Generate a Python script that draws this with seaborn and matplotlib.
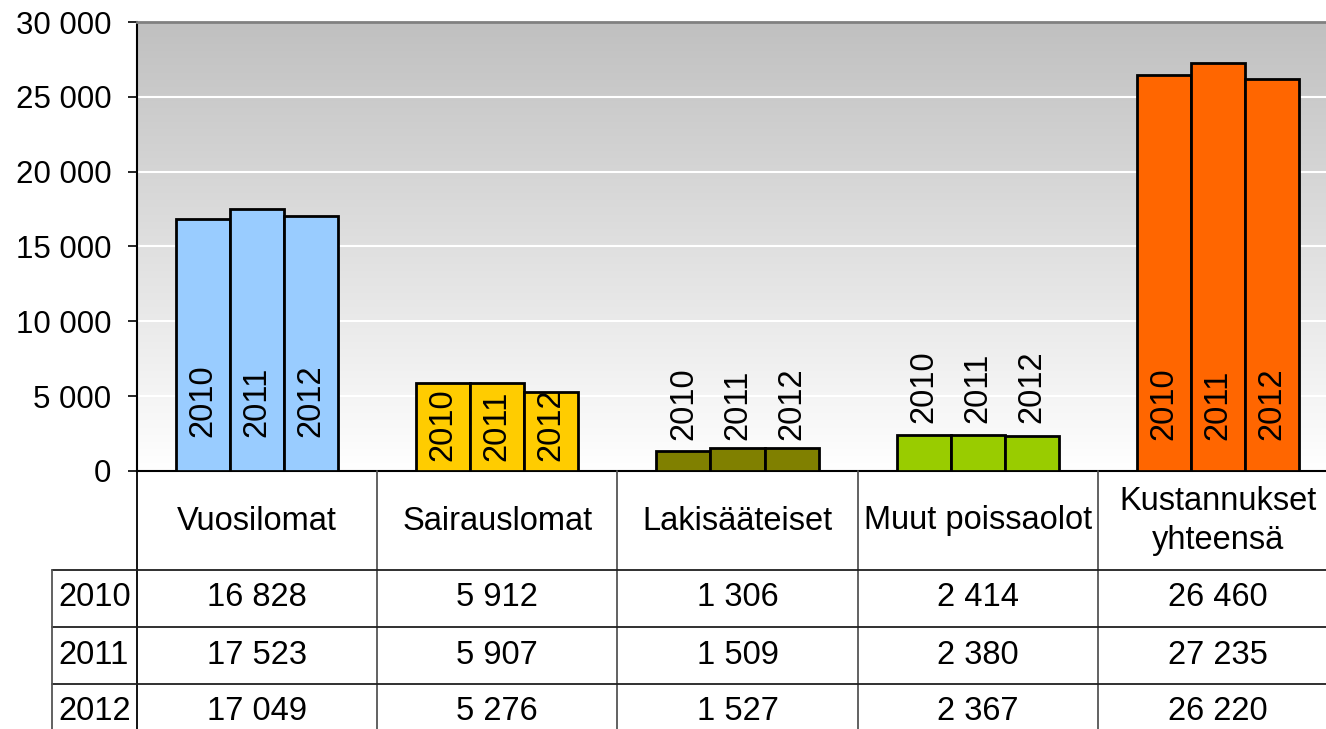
import numpy as np
import pandas as pd
import matplotlib
matplotlib.use("Agg")
import matplotlib.pyplot as plt
import matplotlib.transforms as mtransforms
from matplotlib.lines import Line2D
import seaborn as sns

categories = ["Vuosilomat", "Sairauslomat", "Lakisääteiset", "Muut poissaolot", "Kustannukset\nyhteensä"]
years = ["2010", "2011", "2012"]
v2010 = [16828, 5912, 1306, 2414, 26460]
v2011 = [17523, 5907, 1509, 2380, 27235]
v2012 = [17049, 5276, 1527, 2367, 26220]
colors = ["#99CCFF", "#FFCC00", "#808000", "#99CC00", "#FF6600"]

# bottom of the rotated year labels, per category (data units)
label_bottom = [2270, 670, 2070, 3200, 2070]

df = pd.DataFrame({
    "category": categories * 3,
    "year": np.repeat(years, len(categories)),
    "value": v2010 + v2011 + v2012,
})

W, H = 1326, 729
sns.set_theme(style="white")
plt.rcParams["font.family"] = ["Liberation Sans", "DejaVu Sans"]
plt.rcParams["text.color"] = "black"
plt.rcParams["ytick.color"] = "black"

fig = plt.figure(figsize=(W / 100, H / 100), dpi=100)
ax = fig.add_axes([137 / W, 1 - 471 / H, (1338 - 137) / W, (471 - 22) / H])

# gradient background: gray at top, white at bottom
grad = np.linspace(192, 255, 256)[:, None] / 255
ax.imshow(np.dstack([grad, grad, grad]), extent=[-0.5, 4.5, 0, 30000],
          origin="upper", aspect="auto", zorder=0, interpolation="bilinear")

sns.barplot(data=df, x="category", y="value", hue="year", order=categories,
            hue_order=years, width=0.675, gap=0, ax=ax, legend=False,
            edgecolor="black", linewidth=2, saturation=1, zorder=3)

for cont in ax.containers:
    for i, patch in enumerate(cont):
        patch.set_facecolor(colors[i])

for yi, cont in enumerate(ax.containers):
    for i, patch in enumerate(cont):
        xc = patch.get_x() + patch.get_width() / 2
        ax.text(xc, label_bottom[i], years[yi], rotation=90, ha="center",
                va="bottom", fontsize=23.5, zorder=4)

ax.set_xlim(-0.5, 4.5)
ax.set_ylim(0, 30000)
ax.set_yticks(range(0, 30001, 5000))
ax.set_yticklabels([f"{t:,}".replace(",", " ") for t in range(0, 30001, 5000)])
ax.set_xticklabels([])
ax.set_xlabel("")
ax.set_ylabel("")
ax.tick_params(axis="x", length=0)
ax.tick_params(axis="y", direction="out", length=6.5, width=1.2, color="black",
               labelsize=22.5, pad=12, left=True)
ax.set_axisbelow(True)
ax.yaxis.grid(True, color="white", lw=1.5, zorder=1)
ax.xaxis.grid(False)

for side in ["left", "bottom"]:
    ax.spines[side].set_color("black")
    ax.spines[side].set_linewidth(1.5)
ax.spines["top"].set_color("#808080")
ax.spines["top"].set_linewidth(2)
ax.spines["right"].set_visible(False)

# data table below the chart
def fy(px):
    return 1 - px / H

def fx(px):
    return px / W

blend = mtransforms.blended_transform_factory(ax.transData, fig.transFigure)

for k in range(len(categories) + 1):
    fig.add_artist(Line2D([k - 0.5, k - 0.5], [fy(471), 0], transform=blend,
                          color="#555555" if k else "black", lw=1.3))
for yy in [570, 627, 684]:
    fig.add_artist(Line2D([fx(52), 1], [fy(yy), fy(yy)], transform=fig.transFigure,
                          color="#202020", lw=1.3))
fig.add_artist(Line2D([fx(52), fx(52)], [fy(570), 0], transform=fig.transFigure,
                      color="#555555", lw=1.3))

for i, cat in enumerate(categories):
    fig.text(i, fy(521), cat, transform=blend, ha="center", va="center",
             fontsize=23.5, linespacing=1.3)

rows = [v2010, v2011, v2012]
row_y = [598, 655, 712]
for r, vals in enumerate(rows):
    fig.text(fx(58), fy(row_y[r]), years[r], ha="left", va="center", fontsize=23.5)
    for i, v in enumerate(vals):
        fig.text(i, fy(row_y[r]), f"{v:,}".replace(",", " "), transform=blend,
                 ha="center", va="center", fontsize=23.5)

fig.savefig("out.png", dpi=100)
